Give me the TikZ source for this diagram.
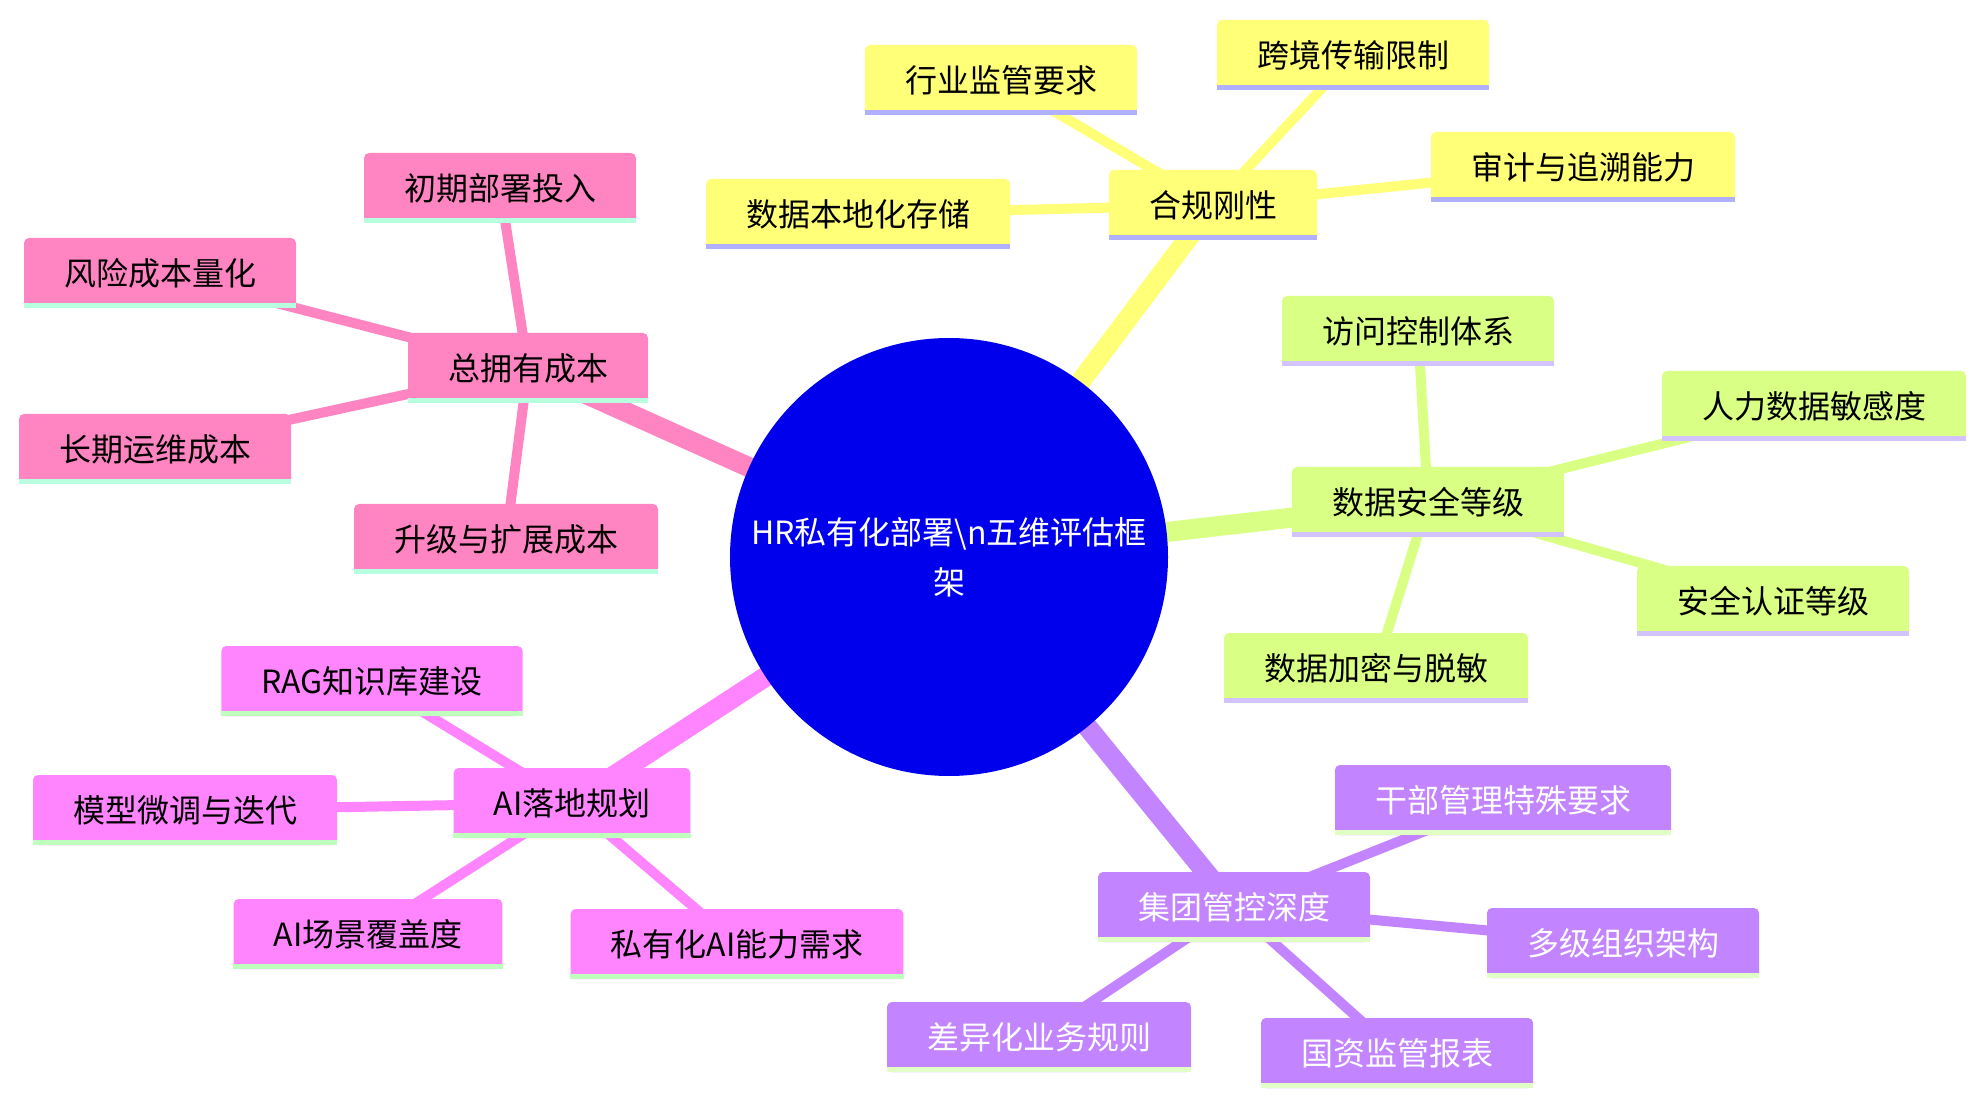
\documentclass[tikz,border=0pt]{standalone}
\usepackage{fontspec}
\newfontfamily\cjk{Noto Sans CJK SC}
\usetikzlibrary{backgrounds}
\definecolor{rootblue}{RGB}{0,0,236}
\definecolor{hgyellow}{RGB}{255,255,120}
\definecolor{hgbar}{RGB}{176,176,255}
\definecolor{aqgreen}{RGB}{217,255,133}
\definecolor{aqbar}{RGB}{210,195,255}
\definecolor{jtpurple}{RGB}{194,133,255}
\definecolor{jtbar}{RGB}{225,255,196}
\definecolor{aimagenta}{RGB}{255,133,255}
\definecolor{aibar}{RGB}{190,255,190}
\definecolor{cbpink}{RGB}{255,133,194}
\definecolor{cbbar}{RGB}{184,255,224}

\begin{document}
\begin{tikzpicture}[x=0.5pt, y=-0.5pt,
		box/.style={fill=#1, rounded corners=2.5pt, minimum height=35pt, inner xsep=20pt, inner ysep=0pt,
			font=\cjk\fontsize{16}{20}\selectfont},
		root/.style={circle, fill=rootblue, minimum size=219pt, inner sep=0pt, text=white, align=center,
			font=\cjk\fontsize{16}{25}\selectfont},
		mainedge/.style={line width=10pt, #1},
		subedge/.style={line width=5pt, #1}]
	%Bildbereich
	\useasboundingbox (0,0) rectangle (1986,1106);
	% Wurzel
	\node[root] (hr) at (949,557) {HR私有化部署\textbackslash n五维评估框\\架};
	% Zweig: Compliance
	\node[box=hgyellow] (hegui) at (1213,205) {合规刚性};
	\node[box=hgyellow] (hangye) at (1001,80) {行业监管要求};
	\node[box=hgyellow] (kuajing) at (1353,55) {跨境传输限制};
	\node[box=hgyellow] (shenji) at (1583,167) {审计与追溯能力};
	\node[box=hgyellow] (bendi) at (858,214) {数据本地化存储};
	% Zweig: Datensicherheit
	\node[box=aqgreen] (anquan) at (1428,502) {数据安全等级};
	\node[box=aqgreen] (fangwen) at (1418,331) {访问控制体系};
	\node[box=aqgreen] (renli) at (1814,406) {人力数据敏感度};
	\node[box=aqgreen] (renzheng) at (1773,601) {安全认证等级};
	\node[box=aqgreen] (jiami) at (1376,668) {数据加密与脱敏};
	% Zweig: Konzernsteuerung
	\node[box=jtpurple, text=white] (jituan) at (1234,907) {集团管控深度};
	\node[box=jtpurple, text=white] (ganbu) at (1503,800) {干部管理特殊要求};
	\node[box=jtpurple, text=white] (duoji) at (1623,943) {多级组织架构};
	\node[box=jtpurple, text=white] (guozi) at (1397,1053) {国资监管报表};
	\node[box=jtpurple, text=white] (chayi) at (1039,1037) {差异化业务规则};
	% Zweig: KI
	\node[box=aimagenta] (ai) at (572,803) {AI落地规划};
	\node[box=aimagenta] (rag) at (372,681) {RAG知识库建设};
	\node[box=aimagenta] (moxing) at (185,810) {模型微调与迭代};
	\node[box=aimagenta] (changjing) at (368,934) {AI场景覆盖度};
	\node[box=aimagenta] (siyou) at (737,944) {私有化AI能力需求};
	% Zweig: Kosten
	\node[box=cbpink] (zong) at (528,368) {总拥有成本};
	\node[box=cbpink] (chuqi) at (500,188) {初期部署投入};
	\node[box=cbpink] (fengxian) at (160,273) {风险成本量化};
	\node[box=cbpink] (changqi) at (155,449) {长期运维成本};
	\node[box=cbpink] (shengji) at (506,539) {升级与扩展成本};
	% Balken unter den Knoten
	\foreach \n in {hegui,hangye,kuajing,shenji,bendi}
		\fill[hgbar] (\n.south west) rectangle ([yshift=2.5pt]\n.south east);
	\foreach \n in {anquan,fangwen,renli,renzheng,jiami}
		\fill[aqbar] (\n.south west) rectangle ([yshift=2.5pt]\n.south east);
	\foreach \n in {jituan,ganbu,duoji,guozi,chayi}
		\fill[jtbar] (\n.south west) rectangle ([yshift=2.5pt]\n.south east);
	\foreach \n in {ai,rag,moxing,changjing,siyou}
		\fill[aibar] (\n.south west) rectangle ([yshift=2.5pt]\n.south east);
	\foreach \n in {zong,chuqi,fengxian,changqi,shengji}
		\fill[cbbar] (\n.south west) rectangle ([yshift=2.5pt]\n.south east);
	% Verbindungen zeichnen
	\begin{scope}[on background layer]
		\draw[mainedge=hgyellow] (hr.center) -- (hegui.center);
		\draw[mainedge=aqgreen] (hr.center) -- (anquan.center);
		\draw[mainedge=jtpurple] (hr.center) -- (jituan.center);
		\draw[mainedge=aimagenta] (hr.center) -- (ai.center);
		\draw[mainedge=cbpink] (hr.center) -- (zong.center);
		\foreach \n in {hangye,kuajing,shenji,bendi}
			\draw[subedge=hgyellow] (hegui.center) -- (\n.center);
		\foreach \n in {fangwen,renli,renzheng,jiami}
			\draw[subedge=aqgreen] (anquan.center) -- (\n.center);
		\foreach \n in {ganbu,duoji,guozi,chayi}
			\draw[subedge=jtpurple] (jituan.center) -- (\n.center);
		\foreach \n in {rag,moxing,changjing,siyou}
			\draw[subedge=aimagenta] (ai.center) -- (\n.center);
		\foreach \n in {chuqi,fengxian,changqi,shengji}
			\draw[subedge=cbpink] (zong.center) -- (\n.center);
	\end{scope}
\end{tikzpicture}
\end{document}
